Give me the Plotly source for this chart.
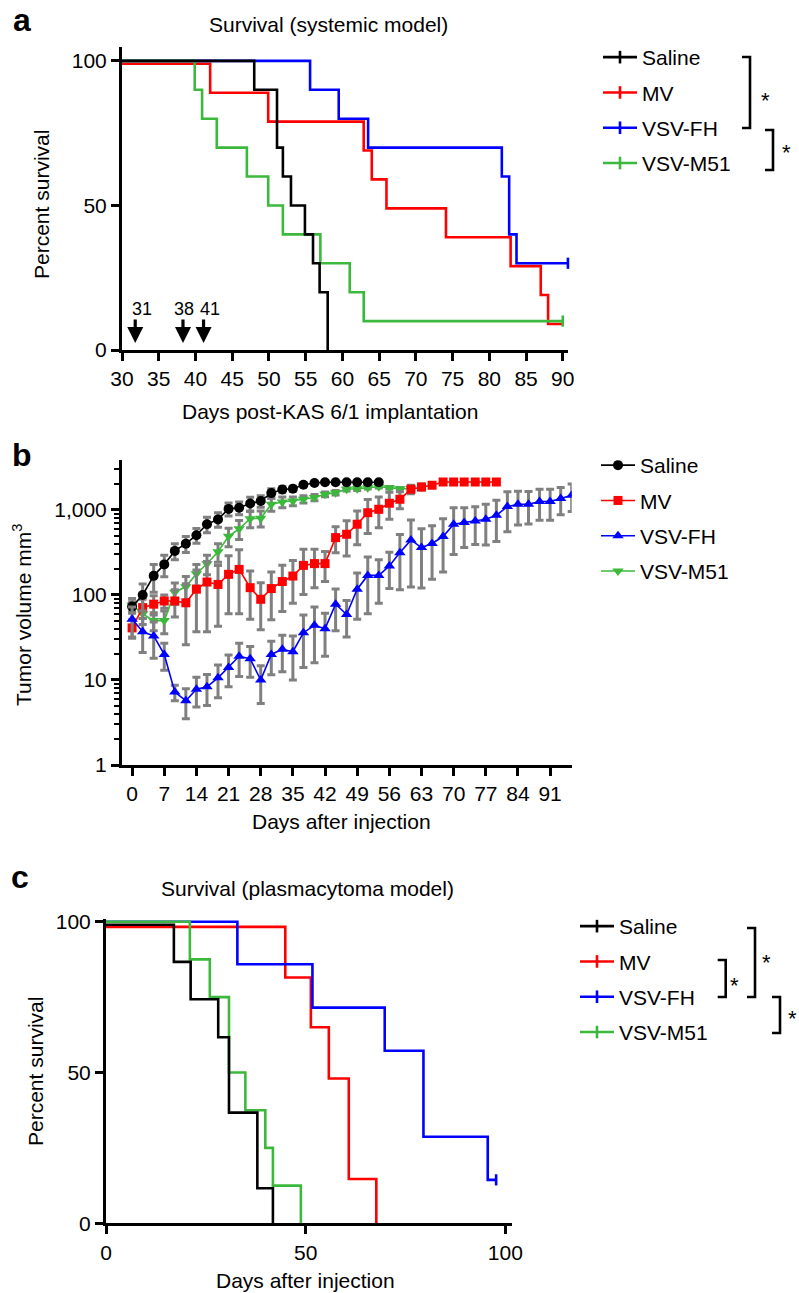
import plotly.graph_objects as go

W, H = 799, 1293


def px(x):
    return x / W


def py(y):
    return 1 - y / H


FONT = "Liberation Sans, Arial, Helvetica, sans-serif"
BLACK, RED, BLUE, GREEN, GRAY = "#000000", "#ff0000", "#0000ff", "#3cb93c", "#808080"
names = ["Saline", "MV", "VSV-FH", "VSV-M51"]
colors = [BLACK, RED, BLUE, GREEN]

# ---------------- Panel a: survival (systemic model) ----------------
a_saline_t = [30, 48, 51.1, 51.9, 53, 54.9, 56, 56.9, 58]
a_saline_s = [100, 90, 70, 60, 50, 40, 30, 20, 0]
a_mv_t = [30, 42, 49.9, 62.9, 64, 66, 74.1, 82.9, 87, 88, 90]
a_mv_s = [99, 89, 79, 69, 59, 49, 39, 29, 19, 9, 9]
a_fh_t = [30, 55.6, 59.5, 63.5, 81.7, 82.7, 83.7, 90.7]
a_fh_s = [100, 90, 80, 70, 60, 40, 30, 30]
a_m51_t = [30, 39.9, 40.9, 42.9, 47, 49.9, 51.9, 57, 61, 62.9, 90]
a_m51_s = [100, 90, 80, 70, 60, 50, 40, 30, 20, 10, 10]
a_fh_cens_t, a_fh_cens_s = [90.7], [30]
a_m51_cens_t, a_m51_cens_s = [90], [10]
a_xticks = [30, 35, 40, 45, 50, 55, 60, 65, 70, 75, 80, 85, 90]
a_yticks = [0, 50, 100]
dose_labels = ["31", "38", "41"]
dose_arrow_x = [31.8, 38.3, 41.1]

# ---------------- Panel b: tumor volume ----------------
b_days = [0, 2.3, 4.7, 7, 9.3, 11.7, 14, 16.3, 18.7, 21, 23.3, 25.7, 28, 30.3,
          32.7, 35, 37.3, 39.7, 42, 44.3, 46.7, 49, 51.3, 53.7, 56, 58.3, 60.7,
          63, 65.3, 67.7, 70, 72.3, 74.7, 77, 79.3, 81.7, 84, 86.3, 88.7, 91,
          93.3, 95.7]
b_saline = [73, 100, 168, 229, 330, 402, 505, 680, 775, 1030, 1060, 1190, 1275,
            1580, 1740, 1780, 1980, 2080, 2120, 2120, 2120, 2120, 2120, 2120]
b_saline_err = [10, 35, 60, 65, 70, 85, 100, 140, 150, 180, 180, 220, 200, 200,
                150, 120, 80, 60, 40, 40, 40, 40, 40, 40]
b_mv = [41, 71, 78, 85, 85, 81, 117, 142, 133, 175, 200, 122, 89, 119, 144, 167,
        223, 234, 234, 473, 518, 680, 930, 1018, 1200, 1335, 1750, 1865, 1950,
        2130, 2130, 2130, 2130, 2130, 2130]
b_mv_err = [10, 18, 20, 15, 30, 55, 80, 105, 90, 115, 140, 70, 50, 68, 80, 87,
            122, 112, 90, 160, 230, 290, 400, 400, 420, 300, 200, 150, 80, 40,
            40, 40, 40, 40, 40]
b_fh = [52, 37, 33, 20, 7.2, 5.7, 7.8, 8.3, 10.6, 14, 19, 17.8, 10, 20, 23, 21.5,
        36, 44, 40, 78, 59, 117, 170, 170, 219, 315, 444, 361, 403, 487, 679, 711,
        743, 777, 866, 1096, 1166, 1166, 1256, 1256, 1361, 1489]
b_fh_err = [20, 16, 15, 7, 1.5, 2.2, 3, 3.3, 4.4, 5.7, 8, 7, 4.7, 8.5, 10.5, 11.5,
            22, 28, 21, 40, 27, 65, 110, 90, 100, 200, 320, 240, 250, 300, 380,
            350, 350, 390, 440, 540, 500, 480, 500, 500, 480, 530]
b_m51 = [76, 60, 50, 50, 108, 125, 178, 233, 322, 490, 600, 790, 800, 1166, 1242,
         1275, 1336, 1400, 1530, 1600, 1750, 1780, 1830, 1880, 1830, 1780, 1780]
b_m51_err = [15, 15, 12, 15, 30, 40, 50, 60, 80, 120, 150, 170, 170, 200, 180,
             150, 130, 120, 100, 100, 80, 80, 70, 60, 60, 60, 60]
b_xticks = [0, 7, 14, 21, 28, 35, 42, 49, 56, 63, 70, 77, 84, 91]
b_yticks = [1, 10, 100, 1000]
b_yticktext = ["1", "10", "100", "1,000"]
b_minor = [2, 3, 4, 5, 6, 7, 8, 9, 20, 30, 40, 50, 60, 70, 80, 90,
           200, 300, 400, 500, 600, 700, 800, 900, 2000, 3000]

# ---------------- Panel c: survival (plasmacytoma model) ----------------
c_saline_t = [0, 17, 21.2, 28.1, 30.8, 37.9, 41.8]
c_saline_s = [99, 86.7, 74.3, 61.7, 36.7, 11.6, 0]
c_mv_t = [0, 44.9, 51.3, 55.8, 60.8, 67.7]
c_mv_s = [98.3, 81.5, 65, 48, 14.7, 0]
c_fh_t = [0, 32.9, 51.7, 69.8, 79.5, 95.6, 97.7]
c_fh_s = [100, 85.9, 71.5, 57.2, 28.7, 14.4, 14.4]
c_m51_t = [0, 21, 26, 30.8, 34.9, 39.9, 41.8, 48.8]
c_m51_s = [100, 87.5, 75, 50, 37.5, 25, 12.5, 0]
c_fh_cens_t, c_fh_cens_s = [97.7], [14.4]
c_ticks = [0, 50, 100]

fig = go.Figure()


def km(t, s, color, xa, ya):
    fig.add_trace(go.Scatter(x=t, y=s, mode="lines", line=dict(color=color, width=2.6, shape="hv"),
                             showlegend=False, xaxis=xa, yaxis=ya, hoverinfo="skip"))


def cens(t, s, color, xa, ya):
    fig.add_trace(go.Scatter(x=t, y=s, mode="markers",
                             marker=dict(symbol="line-ns-open", size=8, color=color,
                                         line=dict(color=color, width=2.6)),
                             showlegend=False, xaxis=xa, yaxis=ya, cliponaxis=False))


def legend_entry(name, color, xa, ya, leg, rank):
    fig.add_trace(go.Scatter(x=[None], y=[None], mode="lines+markers", name=name,
                             line=dict(color=color, width=2.6),
                             marker=dict(symbol="line-ns-open", size=9, color=color,
                                         line=dict(color=color, width=2.6)),
                             xaxis=xa, yaxis=ya, legend=leg, legendgroup=leg + name,
                             legendrank=rank))


# panel a traces
km(a_mv_t, a_mv_s, RED, "x", "y")
km(a_fh_t, a_fh_s, BLUE, "x", "y")
km(a_m51_t, a_m51_s, GREEN, "x", "y")
km(a_saline_t, a_saline_s, BLACK, "x", "y")
cens(a_fh_cens_t, a_fh_cens_s, BLUE, "x", "y")
cens(a_m51_cens_t, a_m51_cens_s, GREEN, "x", "y")
for i, (n, c) in enumerate(zip(names, colors)):
    legend_entry(n, c, "x", "y", "legend", i + 1)

# panel b traces
b_series = [
    ("Saline", b_saline, b_saline_err, BLACK, "circle", 10),
    ("MV", b_mv, b_mv_err, RED, "square", 9),
    ("VSV-FH", b_fh, b_fh_err, BLUE, "triangle-up", 10),
    ("VSV-M51", b_m51, b_m51_err, GREEN, "triangle-down", 10),
]
draw_order = [3, 1, 0, 2]
for k in draw_order:
    n, v, e, c, sym, sz = b_series[k]
    fig.add_trace(go.Scatter(
        x=b_days[:len(v)], y=v, name=n, mode="lines+markers",
        line=dict(color=c, width=1.6),
        marker=dict(symbol=sym, size=sz, color=c),
        error_y=dict(type="data", array=e, visible=True, color=GRAY, thickness=3, width=4),
        xaxis="x2", yaxis="y2", legend="legend2", legendgroup="b" + n, legendrank=k + 1))

# panel c traces
km(c_mv_t, c_mv_s, RED, "x3", "y3")
km(c_fh_t, c_fh_s, BLUE, "x3", "y3")
km(c_m51_t, c_m51_s, GREEN, "x3", "y3")
km(c_saline_t, c_saline_s, BLACK, "x3", "y3")
cens(c_fh_cens_t, c_fh_cens_s, BLUE, "x3", "y3")
for i, (n, c) in enumerate(zip(names, colors)):
    legend_entry(n, c, "x3", "y3", "legend3", i + 1)

ax = dict(showline=True, linecolor="black", linewidth=3, ticks="outside", ticklen=8,
          tickwidth=3, tickcolor="black", showgrid=False, zeroline=False, automargin=False,
          tickfont=dict(size=21, color="black", family=FONT), fixedrange=True)

leg = dict(xanchor="left", yanchor="top", font=dict(size=21, color="black", family=FONT),
           bgcolor="rgba(0,0,0,0)", traceorder="grouped", tracegroupgap=5, itemwidth=34)

fig.update_layout(
    width=W, height=H, autosize=False,
    margin=dict(l=0, r=0, t=0, b=0, pad=0, autoexpand=False),
    paper_bgcolor="white", plot_bgcolor="white",
    font=dict(family=FONT, size=21, color="black"),
    xaxis=dict(ax, domain=[px(122), px(568.3)], range=[30, 90.75], tickvals=a_xticks, anchor="y"),
    yaxis=dict(ax, domain=[py(350), py(47)], range=[0, 104.8], tickvals=a_yticks, anchor="x"),
    xaxis2=dict(ax, domain=[px(122), px(571.7)], range=[-2.2, 95.7], tickvals=b_xticks, anchor="y2"),
    yaxis2=dict(ax, domain=[py(765), py(460)], type="log", range=[0, 3.588], tickvals=b_yticks,
                ticktext=b_yticktext, anchor="x2",
                minor=dict(tickvals=b_minor, ticks="outside", ticklen=5, tickwidth=2,
                           tickcolor="black", showgrid=False)),
    xaxis3=dict(ax, domain=[px(106), px(511.7)], range=[0, 101.6], tickvals=c_ticks, anchor="y3"),
    yaxis3=dict(ax, domain=[py(1223.3), py(919)], range=[0, 100.9], tickvals=c_ticks, anchor="x3"),
    legend=dict(leg, x=px(598), y=py(37)),
    legend2=dict(leg, x=px(596), y=py(445)),
    legend3=dict(leg, x=px(575), y=py(906)),
    showlegend=True,
)

ann = []


def text(x, y, s, size=21, bold=False, angle=0):
    ann.append(dict(x=px(x), y=py(y), xref="paper", yref="paper", text=("<b>%s</b>" % s) if bold else s,
                    showarrow=False, xanchor="center", yanchor="middle", textangle=angle,
                    font=dict(size=size, color="black", family=FONT)))


# panel labels and titles
text(22, 20, "a", 32, True)
text(22, 455, "b", 32, True)
text(20, 877, "c", 32, True)
text(328, 25, "Survival (systemic model)", 21)
text(307, 888, "Survival (plasmacytoma model)", 21)
text(330, 411, "Days post-KAS 6/1 implantation", 21)
text(341, 821, "Days after injection", 21)
text(305, 1280, "Days after injection", 21)
text(41, 205, "Percent survival", 21, angle=-90)
text(22, 615, "Tumor volume mm<sup>3</sup>", 21, angle=-90)
text(35, 1072, "Percent survival", 21, angle=-90)

# dosing arrows with day labels (panel a); box width/alignment nudges the label right of its arrow
dose_box_w = [34, 22, 32]
for xa_, lab, bw in zip(dose_arrow_x, dose_labels, dose_box_w):
    ann.append(dict(x=xa_, y=2.4, xref="x", yref="y", ax=0, ay=-34, text=lab, showarrow=True,
                    width=bw, align="right", borderpad=0,
                    arrowhead=2, arrowsize=1.0, arrowwidth=3.2, arrowcolor="black", standoff=0,
                    font=dict(size=18, color="black", family=FONT)))

# significance stars
for (x, y) in [(765, 100), (786, 152), (734, 985), (766, 962), (792, 1018)]:
    text(x, y, "*", 22)

fig.update_layout(annotations=ann)

# brackets
shapes = []


def bracket(x, y0, y1, arm=8):
    shapes.append(dict(type="path", xref="paper", yref="paper",
                       path="M %f,%f L %f,%f L %f,%f L %f,%f" % (
                           px(x - arm), py(y0), px(x), py(y0), px(x), py(y1), px(x - arm), py(y1)),
                       line=dict(color="black", width=2.6)))


bracket(750, 57, 128)
bracket(773, 130, 170)
bracket(725.7, 960, 997)
bracket(755, 928, 997)
bracket(780, 997, 1033)
fig.update_layout(shapes=shapes)

fig.write_html("out.html", config={"displayModeBar": False},
               post_script="document.body.style.margin='0px';document.body.style.overflow='hidden';")
